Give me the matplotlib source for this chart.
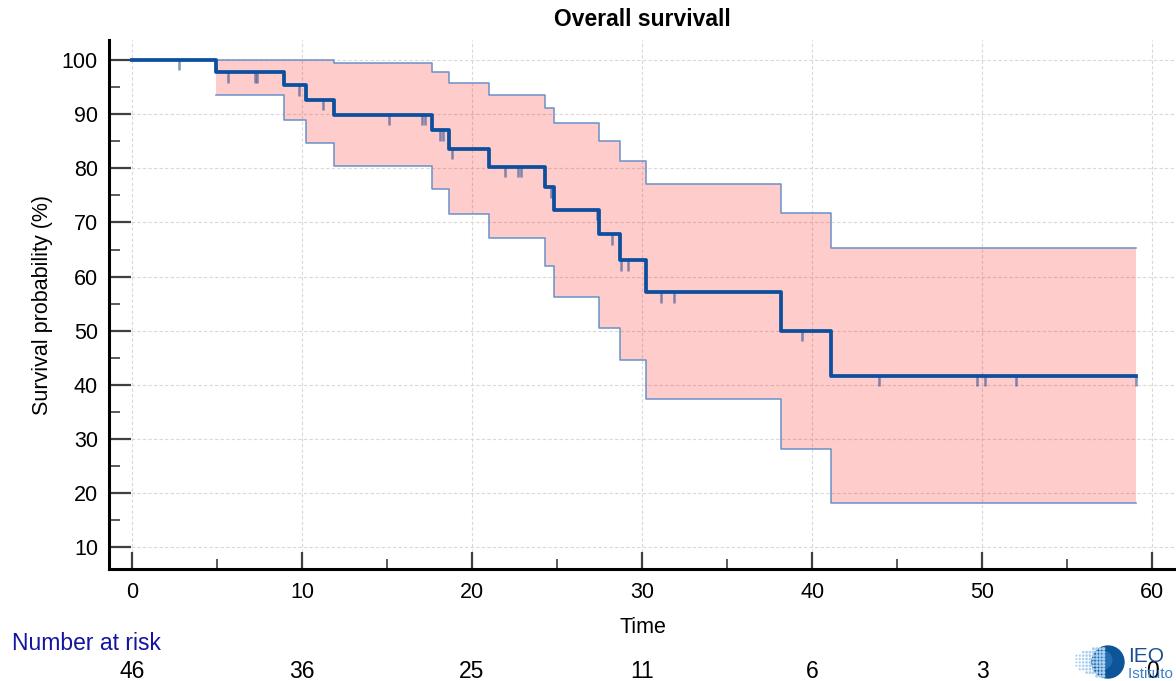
import numpy as np
import matplotlib
matplotlib.use("Agg")
import matplotlib.pyplot as plt
from matplotlib.patches import Circle
from matplotlib.transforms import blended_transform_factory

plt.rcParams['font.family'] = ['Liberation Sans', 'DejaVu Sans']

# Kaplan-Meier estimate
event_times = [4.94, 8.96, 10.24, 11.9, 17.66, 18.66, 21.02, 24.28, 24.84, 27.47, 28.69, 30.25, 38.19, 41.14]
surv = [97.7, 95.3, 92.6, 89.9, 87.0, 83.6, 80.3, 76.5, 72.3, 67.8, 63.0, 57.1, 50.0, 41.7]
ci_low = [93.5, 88.9, 84.6, 80.5, 76.1, 71.6, 67.2, 62.0, 56.2, 50.5, 44.5, 37.3, 28.2, 18.1]
ci_high = [100.0, 100.0, 100.0, 99.4, 97.7, 95.8, 93.6, 91.1, 88.4, 85.0, 81.4, 77.1, 71.8, 65.2]
last_time = 59.06

# censored observations
censor_times = [2.76, 5.63, 7.22, 7.37, 9.81, 11.22, 15.1, 17.06, 17.24, 18.12, 18.29, 18.84,
                21.96, 22.69, 22.9, 24.63, 27.34, 28.25, 28.78, 29.16, 31.14, 31.88, 39.43,
                43.94, 49.71, 50.18, 52.0, 59.06]

# number at risk
risk_times = [0, 10, 20, 30, 40, 50, 60]
at_risk = [46, 36, 25, 11, 6, 3, 0]

line_col = '#0b4f9e'
edge_col = '#6b8fca'

fig = plt.figure(figsize=(11.76, 6.81), dpi=100)
ax = fig.add_axes([109 / 1176, 1 - 569.3 / 681, 1 - 109 / 1176, (569.3 - 40) / 681])

t_steps = np.array([0] + event_times + [last_time])
s_steps = np.array([100.0] + surv + [surv[-1]])
t_band = np.array(event_times + [last_time])
lo_band = np.array(ci_low + [ci_low[-1]])
hi_band = np.array(ci_high + [ci_high[-1]])

# confidence band
ax.fill_between(t_band, lo_band, hi_band, step='post', color='#ff0000', alpha=0.2, lw=0, zorder=2)
ax.step(t_band, lo_band, where='post', color=edge_col, lw=1.1, zorder=3)
ax.step(t_band, hi_band, where='post', color=edge_col, lw=1.1, zorder=3)

# survival curve
ax.step(t_steps, s_steps, where='post', color=line_col, lw=2.7, zorder=5)

# censor marks
idx = np.searchsorted(t_steps, censor_times, side='right') - 1
idx = np.clip(idx, 0, len(s_steps) - 1)
cy = s_steps[idx]
ax.vlines(censor_times, cy - 1.9, cy, color='#2b4f92', alpha=0.6, lw=1.8, zorder=4)

ax.set_xlim(-1.35, 61.4)
ax.set_ylim(5.93, 103.7)
ax.set_xticks(np.arange(0, 61, 10))
ax.set_xticks(np.arange(5, 61, 10), minor=True)
ax.set_yticks(np.arange(10, 101, 10))
ax.set_yticks(np.arange(15, 101, 10), minor=True)

ax.grid(True, which='major', color='#d9d9d9', lw=0.8, ls=(0, (3, 2)), zorder=0)

for side in ['top', 'right']:
    ax.spines[side].set_visible(False)
for side in ['left', 'bottom']:
    ax.spines[side].set_linewidth(2.2)
    ax.spines[side].set_color('black')

ax.tick_params(axis='y', which='major', direction='in', length=16, width=1.6, color='#404040',
               labelsize=15.5, pad=8)
ax.tick_params(axis='y', which='minor', direction='in', length=8, width=1.2, color='#404040')
ax.tick_params(axis='x', which='major', direction='in', length=12.5, width=1.6, color='#404040',
               labelsize=15.5, pad=9)
ax.tick_params(axis='x', which='minor', direction='in', length=7.5, width=1.2, color='#404040')

ax.set_title('Overall survivall', fontsize=16.5, fontweight='bold', pad=10)
ax.set_ylabel('Survival probability (%)', fontsize=15.5, labelpad=6)
ax.set_xlabel('Time', fontsize=15.5, labelpad=10)

# number at risk table
trans = blended_transform_factory(ax.transData, fig.transFigure)
fig.text(12.5 / 1176, 1 - 643 / 681, 'Number at risk', color='#1414a0', fontsize=16.5,
         ha='left', va='center')
for t, n in zip(risk_times, at_risk):
    ax.text(t, 1 - 671 / 681, str(n), transform=trans, ha='center', va='center',
            fontsize=16.5, clip_on=False, zorder=10)

# IEO logo
lax = fig.add_axes([1068 / 1176, 0, 58 / 1176, 38 / 681])
lax.set_zorder(-1)
lax.set_xlim(0, 58)
lax.set_ylim(0, 38)
lax.axis('off')
lax.add_patch(Circle((40, 19), 16, color='#0d5498'))
lax.add_patch(Circle((35, 21), 9.5, color='#3c86c8', alpha=0.5, lw=0))
gx, gy = np.meshgrid(np.arange(5, 36, 3.4), np.arange(5, 35, 3.4))
gx = gx.ravel()
gy = gy.ravel()
keep = ((gx - 40) / 35) ** 2 + ((gy - 19) / 15) ** 2 < 1
sizes = 1.5 + 5 * (gx[keep] - 5) / 30
lax.scatter(gx[keep], gy[keep], s=sizes, color='#a9d0f0', lw=0, zorder=3)
fig.text(1128 / 1176, 1 - 656 / 681, 'IEO', color='#1b4f8f', fontsize=15, ha='left', va='center',
         family=['Liberation Sans Narrow', 'Liberation Sans'])
fig.text(1128 / 1176, 1 - 674 / 681, 'Istituto E', color='#3d7fc4', fontsize=11, ha='left',
         va='center', family=['Liberation Sans Narrow', 'Liberation Sans'])

fig.savefig('out.png', dpi=100)
